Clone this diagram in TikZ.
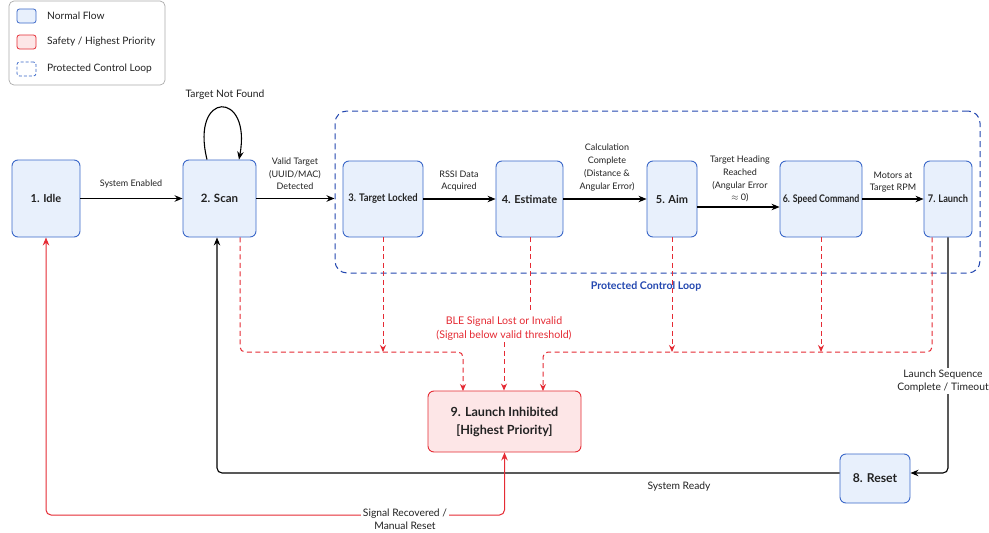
\documentclass[tikz,border=0pt]{standalone}
\usepackage{graphicx}
\usepackage{fontspec}
\setmainfont{Lato}
\usetikzlibrary{arrows.meta,calc}
\definecolor{nfill}{HTML}{E8F0FC}
\definecolor{nblue}{HTML}{3B68C9}
\definecolor{rfill}{HTML}{FDE6E7}
\definecolor{rred}{HTML}{E52B34}
\definecolor{lblue}{HTML}{2448B0}
\definecolor{txt}{HTML}{222222}
\tikzset{
  state/.style={draw=nblue, fill=nfill, rounded corners=6pt, line width=0.9pt,
    font=\bfseries\fontsize{11}{13}\selectfont, align=center, inner sep=0pt, text=txt},
  safe/.style={draw=rred, fill=rfill, rounded corners=6pt, line width=0.9pt,
    font=\bfseries\fontsize{12.6}{18}\selectfont, align=center, inner sep=0pt, text=txt},
  lbl/.style={font=\fontsize{9}{12.7}\selectfont, align=center, text=txt, inner sep=1pt},
  blbl/.style={lbl, font=\fontsize{10.3}{13.5}\selectfont},
  arr/.style={line width=1.1pt, draw=black, -{Stealth[length=8pt,width=6.5pt]}},
  rarr/.style={line width=1pt, draw=rred, {Stealth[length=8pt,width=6.5pt]}-{Stealth[length=8pt,width=6.5pt]}},
  rdash/.style={line width=1pt, draw=rred, dash pattern=on 5pt off 3.5pt},
  rdarr/.style={rdash, -{Stealth[length=7pt,width=6pt]}},
}
\begin{document}
\begin{tikzpicture}[x=1pt,y=-1pt]
\useasboundingbox (0,0) rectangle (989,533);
\fill[white] (0,0) rectangle (989,533);

% legend
\node[draw=gray!65, line width=0.7pt, rounded corners=5pt, minimum width=156pt, minimum height=84pt] (legend) at (87,43) {};
\node[draw=nblue, fill=nfill, rounded corners=2.5pt, line width=0.8pt, minimum width=19pt, minimum height=14pt, inner sep=0pt] (lg1) at (26.5,16) {};
\node[draw=rred, fill=rfill, rounded corners=2.5pt, line width=0.8pt, minimum width=19pt, minimum height=14pt, inner sep=0pt] (lg2) at (26.5,42) {};
\node[draw=nblue, dash pattern=on 3pt off 2pt, rounded corners=2.5pt, line width=0.8pt, minimum width=19pt, minimum height=14pt, inner sep=0pt] (lg3) at (26.5,69) {};
\node[lbl, anchor=west, font=\fontsize{10.2}{12}\selectfont] (lt1) at (46,16) {Normal Flow};
\node[lbl, anchor=west, font=\fontsize{10.2}{12}\selectfont] (lt2) at (46,42) {Safety / Highest Priority};
\node[lbl, anchor=west, font=\fontsize{10.2}{12}\selectfont] (lt3) at (46,69) {Protected Control Loop};

% protected loop
\node[draw=lblue, line width=1pt, dash pattern=on 6pt off 4pt, rounded corners=12pt,
  minimum width=645pt, minimum height=162pt, inner sep=0pt] (loop) at (657.5,192) {};
\node[text=lblue, font=\bfseries\fontsize{10.6}{12}\selectfont] (looplbl) at (646,286) {Protected Control Loop};

% states
\node[state, minimum width=68pt, minimum height=77pt] (idle) at (46,198.5) {1. Idle};
\node[state, minimum width=73pt, minimum height=77pt, font=\bfseries\fontsize{11.5}{13}\selectfont] (scan) at (219.5,198.5) {2. Scan};
\node[state, minimum width=80pt, minimum height=76pt, font=\bfseries\fontsize{10.5}{12}\selectfont] (tl) at (383,199) {\scalebox{0.9}[1]{3. Target Locked}};
\node[state, minimum width=67pt, minimum height=76pt] (est) at (529.5,199) {4. Estimate};
\node[state, minimum width=50pt, minimum height=76pt] (aim) at (672,199) {5. Aim};
\node[state, minimum width=82pt, minimum height=76pt, font=\bfseries\fontsize{10.5}{12}\selectfont] (spd) at (821,199) {\scalebox{0.84}[1]{6. Speed Command}};
\node[state, minimum width=48pt, minimum height=76pt, font=\bfseries\fontsize{10.5}{12}\selectfont] (lau) at (948,199) {\scalebox{0.88}[1]{7. Launch}};
\node[state, minimum width=70pt, minimum height=49pt, font=\bfseries\fontsize{12.2}{14}\selectfont] (reset) at (875,478.5) {8. Reset};
\node[safe, minimum width=153pt, minimum height=61pt] (inh) at (504.5,421.5) {9. Launch Inhibited\\{}[Highest Priority]};

% normal flow
\draw[arr] (idle) -- (scan);
\node[lbl] (l1) at (131,184) {System Enabled};
\draw[arr] (scan.east) -- (scan.east -| loop.west);
\node[lbl] (l2) at (295,174) {Valid Target\\(UUID/MAC)\\Detected};
\draw[arr] ($(scan.north)+(-12.5,0)$) .. controls (190,90) and (252,90) .. ($(scan.north)+(19.5,0)$);
\node[blbl] (l0) at (225,95) {Target Not Found};
\draw[arr] (tl) -- (est);
\node[lbl] (l3) at (459,181) {RSSI Data\\Acquired};
\draw[arr] (est) -- (aim);
\node[lbl] (l4) at (607,167.5) {Calculation\\Complete\\(Distance \&\\Angular Error)};
\draw[arr] ($(aim.east)+(0,8)$) -- ($(aim.east -| spd.west)+(0,8)$);
\node[lbl] (l5) at (740,179) {Target Heading\\Reached\\(Angular Error\\$\approx$ 0)};
\draw[arr] (spd) -- (lau);
\node[lbl] (l6) at (893,182) {Motors at\\Target RPM};

\draw[arr, rounded corners=5pt] (lau.south) |- ($(reset.east)+(0,-5.5)$);
\node[blbl, fill=white, inner sep=2pt] (l7) at (943,381) {Launch Sequence\\Complete / Timeout};
\draw[arr, rounded corners=5pt] ($(reset.west)+(0,-5.5)$) -| ($(scan.south)+(-2.5,0)$);
\node[blbl] (l8) at (679,487) {System Ready};

% safety
\draw[rarr, rounded corners=5pt] (idle.south) -- (46,515) -- (504.5,515) -- (inh.south);
\node[blbl, fill=white, inner sep=2pt] (l9) at (405,519) {Signal Recovered /\\Manual Reset};

\draw[rdarr, rounded corners=5pt] ($(scan.south)+(20.5,0)$) -- (240,352) -- (463,352) -- (463,391);
\draw[rdarr] (tl.south) -- (383,352);
\draw[rdash] (530,237) -- (530,310);
\node[lbl, text=rred, font=\fontsize{10.6}{14}\selectfont] (ble) at (504,329) {BLE Signal Lost or Invalid\\(Signal below valid threshold)};
\draw[rdarr] (ble.south) -- (ble.south |- inh.north);
\draw[rdarr] (aim.south) -- (672,352);
\draw[rdarr] (spd.south) -- (821,352);
\draw[rdarr, rounded corners=5pt] ($(lau.south)+(-16,0)$) -- (932,352) -- (543,352) -- (543,391);
\end{tikzpicture}
\end{document}
